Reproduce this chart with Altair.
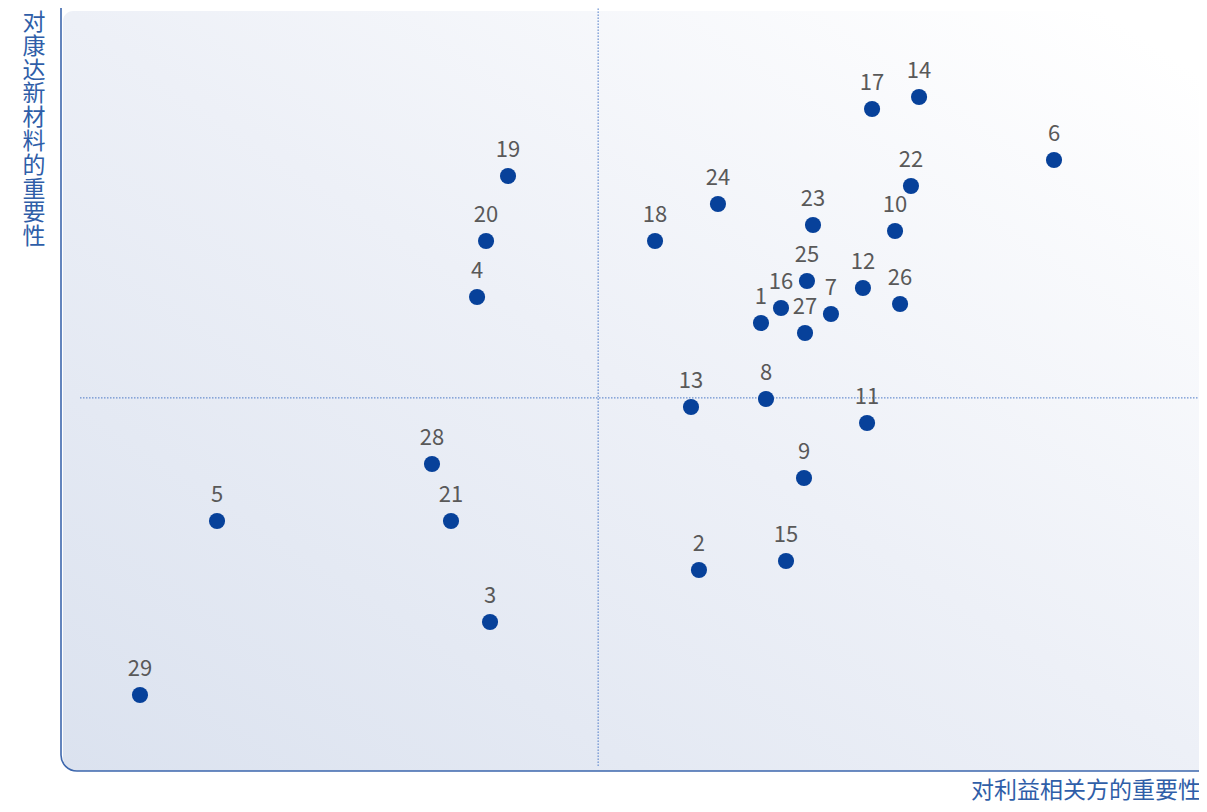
import altair as alt
import pandas as pd

# ---- data ----
labels = [str(i) for i in range(1, 30)]
stakeholder = [6.151, 5.606, 3.770, 3.656, 1.371, 8.726, 6.766, 6.195, 6.529, 7.329,
               7.083, 7.047, 5.536, 7.540, 6.371, 6.327, 7.127, 5.220, 3.928, 3.735,
               3.427, 7.469, 6.608, 5.773, 6.555, 7.373, 6.538, 3.260, 0.694]
company = [5.872, 2.634, 1.953, 6.212, 3.277, 8.008, 5.990, 4.875, 3.840, 7.077,
           4.561, 6.330, 4.771, 8.834, 2.752, 6.068, 8.676, 6.946, 7.798, 6.946,
           3.277, 7.667, 7.156, 7.431, 6.422, 6.121, 5.740, 4.024, 0.996]

x_divider = [4.72]
y_divider = [4.89]
x_title = "对利益相关方的重要性"
y_title = "对康达新材料的重要性"

W, H = 1138, 763
FONT = "Noto Sans CJK SC"

df = pd.DataFrame({"label": labels, "x": stakeholder, "y": company})

xs = alt.Scale(domain=[0, 10], nice=False, zero=False)
ys = alt.Scale(domain=[0, 10], nice=False, zero=False)

one = pd.DataFrame({"a": [0]})

bg = alt.Chart(one).mark_rect(
    cornerRadiusTopLeft=10,
    cornerRadiusBottomLeft=14,
    fill=alt.Gradient(
        gradient="linear",
        stops=[
            alt.GradientStop(color="#dbe2ef", offset=0),
            alt.GradientStop(color="#edf0f7", offset=0.5),
            alt.GradientStop(color="#ffffff", offset=0.95),
        ],
        x1=0, y1=1, x2=1, y2=0,
    ),
).encode(x=alt.value(2), x2=alt.value(W + 20), y=alt.value(3), y2=alt.value(H))

frame = alt.Chart(one).mark_rect(
    fillOpacity=0, stroke="#3d67ad", strokeWidth=1.6, cornerRadiusBottomLeft=16
).encode(x=alt.value(0), x2=alt.value(W + 200), y=alt.value(-40), y2=alt.value(H))

vdf = pd.DataFrame({"x": x_divider, "y": [0.066], "y2": [10]})
hdf = pd.DataFrame({"y": y_divider, "x": [0.167], "x2": [10]})

vrule = alt.Chart(vdf).mark_rule(color="#4a78c6", strokeDash=[1.5, 1.5], strokeWidth=1).encode(
    x=alt.X("x:Q", scale=xs, axis=None), y=alt.Y("y:Q", scale=ys, axis=None), y2="y2:Q")
hrule = alt.Chart(hdf).mark_rule(color="#4a78c6", strokeDash=[1.5, 1.5], strokeWidth=1).encode(
    y=alt.Y("y:Q", scale=ys, axis=None), x=alt.X("x:Q", scale=xs, axis=None), x2="x2:Q")

points = alt.Chart(df).mark_circle(size=260, color="#07419a", opacity=1).encode(
    x=alt.X("x:Q", scale=xs, axis=None), y=alt.Y("y:Q", scale=ys, axis=None))

text = alt.Chart(df).mark_text(
    font=FONT, fontSize=22, color="#595959", dy=-26, baseline="middle", align="center"
).encode(x=alt.X("x:Q", scale=xs, axis=None), y=alt.Y("y:Q", scale=ys, axis=None), text="label:N")

ytitle = alt.Chart(pd.DataFrame({"t": ["\n".join(list(y_title))]})).mark_text(
    font=FONT, fontSize=23, color="#2f5ea8", lineBreak="\n", lineHeight=23.8,
    baseline="top", align="center"
).encode(x=alt.value(-27), y=alt.value(4), text="t:N")

xtitle = alt.Chart(pd.DataFrame({"t": [x_title]})).mark_text(
    font=FONT, fontSize=23, color="#2f5ea8", baseline="middle", align="right"
).encode(x=alt.value(W + 2), y=alt.value(H + 20), text="t:N")

chart = alt.layer(bg, frame, vrule, hrule, points, text, ytitle, xtitle).properties(
    width=W, height=H,
    autosize=alt.AutoSizeParams(type="none"),
    padding={"left": 53, "top": 0, "right": 0, "bottom": 33},
).configure_view(stroke=None)

chart.save("out.html", embed_options={"renderer": "svg", "actions": False})
